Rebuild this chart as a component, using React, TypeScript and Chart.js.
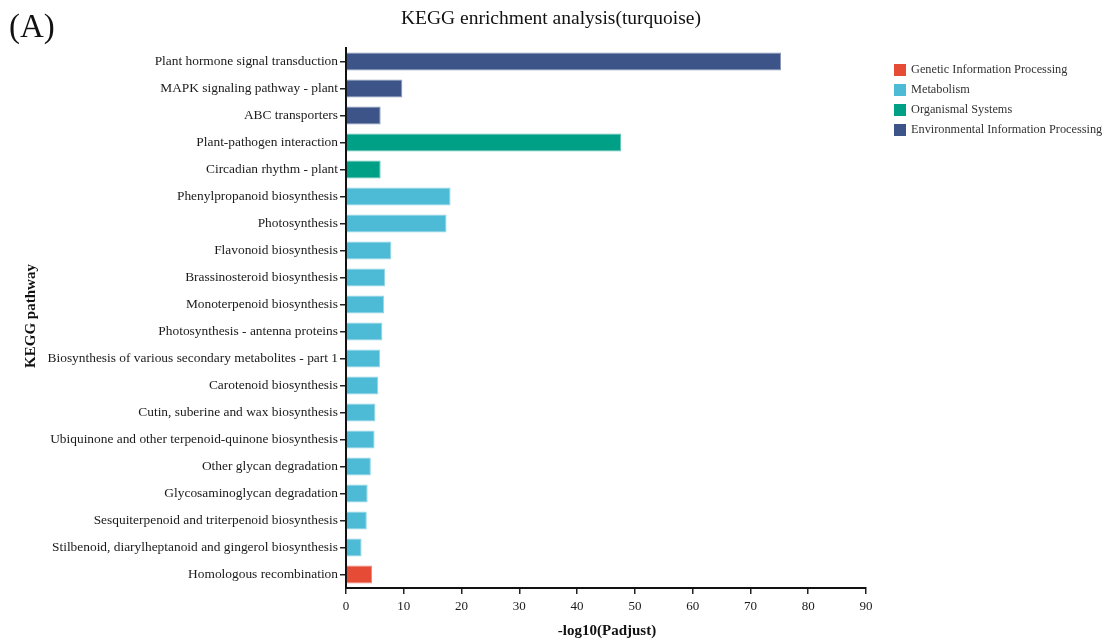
import React, { useEffect, useRef } from "react";
import { Chart, registerables } from "chart.js";

Chart.register(...registerables);

// KEGG pathways, top to bottom
const pathways: string[] = [
  "Plant hormone signal transduction",
  "MAPK signaling pathway - plant",
  "ABC transporters",
  "Plant-pathogen interaction",
  "Circadian rhythm - plant",
  "Phenylpropanoid biosynthesis",
  "Photosynthesis",
  "Flavonoid biosynthesis",
  "Brassinosteroid biosynthesis",
  "Monoterpenoid biosynthesis",
  "Photosynthesis - antenna proteins",
  "Biosynthesis of various secondary metabolites - part 1",
  "Carotenoid biosynthesis",
  "Cutin, suberine and wax biosynthesis",
  "Ubiquinone and other terpenoid-quinone biosynthesis",
  "Other glycan degradation",
  "Glycosaminoglycan degradation",
  "Sesquiterpenoid and triterpenoid biosynthesis",
  "Stilbenoid, diarylheptanoid and gingerol biosynthesis",
  "Homologous recombination",
];

// -log10(Padjust) per pathway
const negLogPadj: number[] = [
  75.3, 9.75, 6.0, 47.6, 6.0, 18.1, 17.4, 7.85, 6.75, 6.6,
  6.3, 5.9, 5.6, 5.1, 4.95, 4.3, 3.75, 3.6, 2.7, 4.5,
];

// KEGG class of each pathway
const pathwayClass: string[] = [
  "Environmental Information Processing",
  "Environmental Information Processing",
  "Environmental Information Processing",
  "Organismal Systems",
  "Organismal Systems",
  "Metabolism",
  "Metabolism",
  "Metabolism",
  "Metabolism",
  "Metabolism",
  "Metabolism",
  "Metabolism",
  "Metabolism",
  "Metabolism",
  "Metabolism",
  "Metabolism",
  "Metabolism",
  "Metabolism",
  "Metabolism",
  "Genetic Information Processing",
];

// legend order
const classNames: string[] = [
  "Genetic Information Processing",
  "Metabolism",
  "Organismal Systems",
  "Environmental Information Processing",
];
const classColors: string[] = ["#E64B35", "#4DBBD5", "#00A087", "#3C5488"];
const classBorders: string[] = ["#F08A7C", "#94D6E6", "#66C6B7", "#8A98B8"];

const xTicks: number[] = [0, 10, 20, 30, 40, 50, 60, 70, 80, 90];

const chartTitle = "KEGG enrichment analysis(turquoise)";
const panelLabel = "(A)";
const xTitle = "-log10(Padjust)";
const yTitle = "KEGG pathway";

const SERIF = "'Liberation Serif', 'Times New Roman', serif";

const annotations = {
  id: "annotations",
  afterDraw(chart: any) {
    const { ctx, chartArea } = chart;
    ctx.save();
    ctx.fillStyle = "#111";
    ctx.textBaseline = "middle";

    // panel label
    ctx.font = `33px ${SERIF}`;
    ctx.textAlign = "left";
    ctx.fillText(panelLabel, 9, 28);

    // main title
    ctx.font = `19.5px ${SERIF}`;
    ctx.textAlign = "center";
    ctx.fillText(chartTitle, 551, 19);

    // axis titles
    ctx.font = `bold 15px ${SERIF}`;
    ctx.fillText(xTitle, (chartArea.left + chartArea.right) / 2 + 1, 631);
    ctx.save();
    ctx.translate(31, (chartArea.top + chartArea.bottom) / 2 - 2);
    ctx.rotate(-Math.PI / 2);
    ctx.fillText(yTitle, 0, 0);
    ctx.restore();

    // legend
    ctx.font = `12.3px ${SERIF}`;
    ctx.textAlign = "left";
    classNames.forEach((name, i) => {
      const y = 70 + i * 20;
      ctx.fillStyle = classColors[i];
      ctx.fillRect(894, y - 6, 12, 12);
      ctx.fillStyle = "#333";
      ctx.fillText(name, 911, y);
    });
    ctx.restore();
  },
};

export default function App() {
  const canvasRef = useRef<HTMLCanvasElement | null>(null);

  useEffect(() => {
    if (!canvasRef.current) return;
    const datasets = classNames.map((cls, ci) => ({
      label: cls,
      data: negLogPadj.map((v, i) => (pathwayClass[i] === cls ? v : null)),
      backgroundColor: classColors[ci],
      borderColor: classBorders[ci],
      borderWidth: 1,
      barPercentage: 0.667,
      categoryPercentage: 1,
    }));

    const chart = new Chart(canvasRef.current, {
      type: "bar",
      data: { labels: pathways, datasets },
      options: {
        indexAxis: "y",
        animation: false,
        responsive: true,
        maintainAspectRatio: false,
        layout: { padding: { top: 48, right: 243, left: 0, bottom: 0 } },
        plugins: {
          legend: { display: false },
          title: { display: false },
          tooltip: { enabled: false },
        },
        scales: {
          y: {
            stacked: true,
            grid: {
              display: true,
              drawOnChartArea: false,
              drawTicks: true,
              tickLength: 6,
              offset: false,
              color: "#222",
              lineWidth: 1.5,
            },
            border: { display: true, color: "#111", width: 2 },
            ticks: {
              color: "#1a1a1a",
              padding: 2,
              font: { family: SERIF, size: 13.4 },
              autoSkip: false,
            },
            afterFit(scale: any) {
              scale.width = 346;
            },
          },
          x: {
            stacked: true,
            min: 0,
            max: 90,
            afterBuildTicks(scale: any) {
              scale.ticks = xTicks.map((v) => ({ value: v }));
            },
            grid: {
              display: true,
              drawOnChartArea: false,
              drawTicks: true,
              tickLength: 6,
              color: "#222",
              lineWidth: 1.5,
            },
            border: { display: true, color: "#111", width: 2 },
            ticks: {
              color: "#1a1a1a",
              padding: 5,
              font: { family: SERIF, size: 13 },
            },
            afterFit(scale: any) {
              scale.height = 56;
            },
          },
        },
      },
      plugins: [annotations],
    });
    return () => chart.destroy();
  }, []);

  return (
    <div
      style={{
        position: "fixed",
        left: 0,
        top: 0,
        width: 1109,
        height: 644,
        background: "#fff",
      }}
    >
      <canvas ref={canvasRef} />
    </div>
  );
}
